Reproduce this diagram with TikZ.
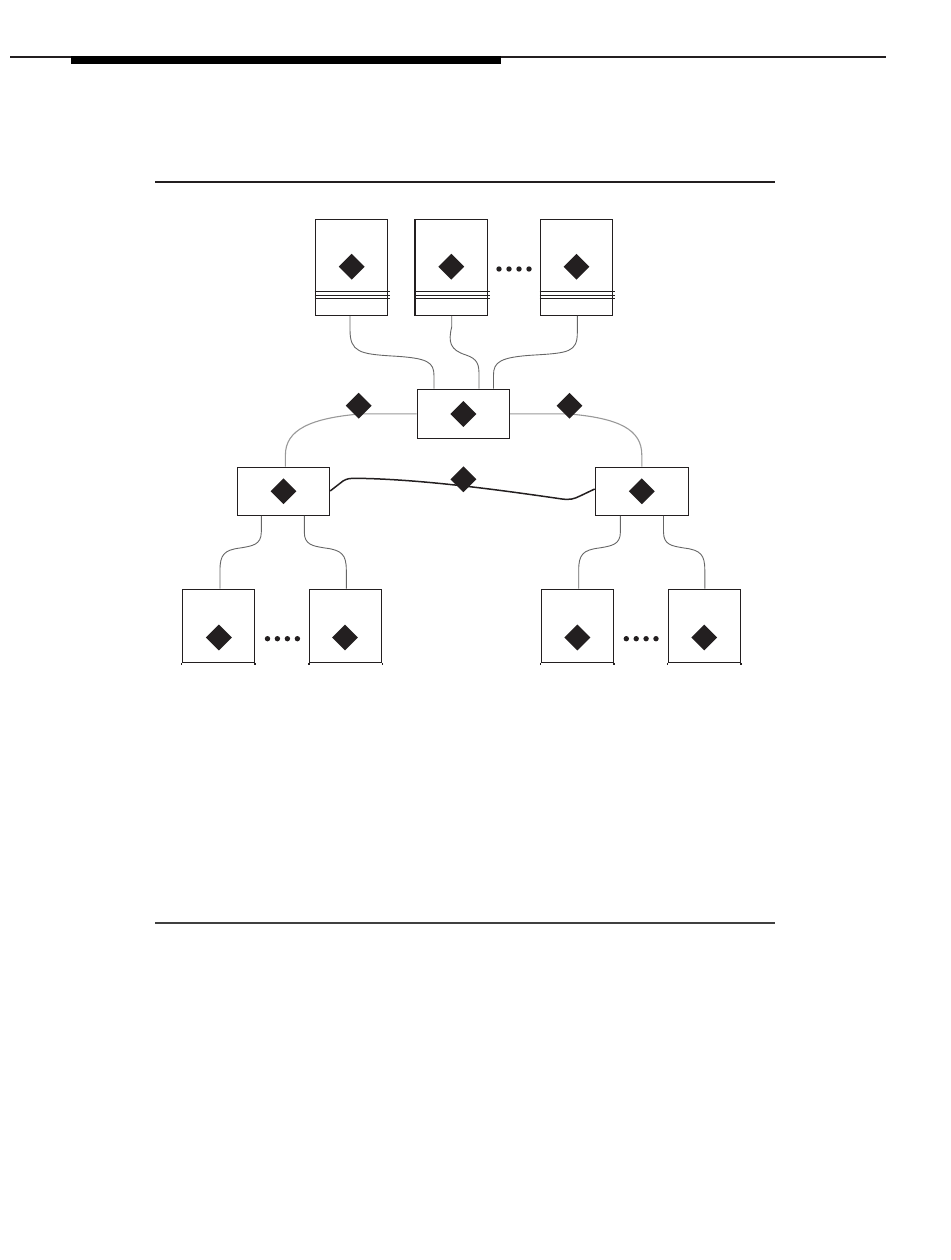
\documentclass[tikz,border=0pt]{standalone}
\usetikzlibrary{shapes.geometric}
\definecolor{ink}{HTML}{231F20}
\begin{document}
\begin{tikzpicture}[x=1pt,y=-1pt,
 box/.style={draw=ink, line width=1.3pt, rectangle, inner sep=0pt, fill=white},
 dia/.style={diamond, fill=ink, inner sep=0pt, minimum width=26pt, minimum height=26pt},
 wire/.style={draw=black!60, line width=0.9pt},
 hubwire/.style={draw=black!40, line width=1.1pt},
 link/.style={draw=ink, line width=1.5pt},
 dotn/.style={circle, fill=ink, inner sep=0pt, minimum size=5.4pt},
 rule/.style={draw=ink, line width=1.3pt}]
\useasboundingbox (0,0) rectangle (950,1260);
% page rules
\draw[rule] (10,57) -- (886,57);
\fill[black] (71,56.5) rectangle (501,64.5);
\draw[ink, line width=1.7pt] (155,182) -- (775,182);
\draw[draw=black!75, line width=1.4pt] (155,923) -- (775,923);
% top boxes
\node[box, minimum width=72.4pt, minimum height=96pt] (tA) at (351.5,267.3) {};
\node[box, minimum width=72.4pt, minimum height=96pt] (tB) at (451.3,267.3) {};
\node[box, minimum width=72.4pt, minimum height=96pt] (tC) at (576.5,267.3) {};
\foreach \n in {tA,tB,tC}{
  \foreach \s in {24,27.7,31}{
    \draw[ink, line width=1pt] ([yshift=-\s pt]\n.west) -- ([yshift=-\s pt, xshift=1.5pt]\n.east);
  }
}
\node[dia] (dA) at (351.7,266.7) {};
\node[dia] (dB) at (451.3,266.7) {};
\node[dia] (dC) at (576.5,266.7) {};
\foreach \x [count=\i] in {499,509,519,529}{\node[dotn] (tdot\i) at (\x,269) {};}
% hub and middle boxes
\node[box, minimum width=92.3pt, minimum height=49pt] (hub) at (463.4,413.8) {};
\node[box, minimum width=92pt, minimum height=48pt] (ml) at (283.5,491.3) {};
\node[box, minimum width=92.9pt, minimum height=48pt] (mr) at (641.8,491.3) {};
% bottom boxes
\node[box, minimum width=72pt, minimum height=73pt] (b1) at (218.4,625.8) {};
\node[box, minimum width=72pt, minimum height=73pt] (b2) at (345.5,625.8) {};
\node[box, minimum width=72pt, minimum height=73pt] (b3) at (577.2,625.8) {};
\node[box, minimum width=72pt, minimum height=73pt] (b4) at (704.3,625.8) {};
\foreach \n in {b1,b2,b3,b4}{
  \draw[ink, line width=1.3pt] (\n.south west) -- ++(0,2.5);
  \draw[ink, line width=1.3pt] (\n.south east) -- ++(0,2.5);
}
% top wires
\draw[wire] ([xshift=-1.5pt]tA.south) -- (350,330) .. controls (350,352) and (360,354) .. (392,356) .. controls (428,358) and (434,362) .. (434,376) -- ([xshift=-29.4pt]hub.north);
\draw[wire] ([xshift=0.4pt]tB.south) -- (451.7,327) .. controls (448,342) and (450,350) .. (466,355) .. controls (478,359) and (479,365) .. (479,375) -- ([xshift=15.6pt]hub.north);
\draw[wire] ([xshift=0.8pt]tC.south) -- (577.3,333) .. controls (577.3,352) and (568,353) .. (535,355) .. controls (500,357) and (493.5,362) .. (493.5,375) -- ([xshift=30.1pt]hub.north);
% hub to middle boxes
\draw[hubwire] (hub.west) -- (362,413.8) .. controls (310,418) and (285.4,430) .. (285.4,455) -- ([xshift=1.9pt]ml.north);
\draw[hubwire] (hub.east) -- (567,413.8) .. controls (620,418) and (641.8,430) .. (641.8,455) -- (mr.north);
% middle link
\draw[link] ([yshift=0.3pt]ml.east) -- (343,481) .. controls (347,478.5) and (350,478.3) .. (356,478.3) .. controls (420,479) and (500,490) .. (562,499) .. controls (570,500) and (574,499) .. (580,496) -- ([yshift=2.3pt]mr.west);
% bottom wires
\draw[wire] ([xshift=-22.2pt]ml.south) -- (261.3,532) .. controls (261.3,545) and (252,546) .. (240,548) .. controls (224,550) and (220,555) .. (220,570) -- ([xshift=1.6pt]b1.north);
\draw[wire] ([xshift=20.8pt]ml.south) -- (304.3,532) .. controls (304.3,545) and (313,546) .. (325,548) .. controls (342,550) and (346.3,555) .. (346.3,570) -- ([xshift=0.8pt]b2.north);
\draw[wire] ([xshift=-21.4pt]mr.south) -- (620.4,532) .. controls (620.4,545) and (611,546) .. (599,548) .. controls (582.7,550) and (578.7,555) .. (578.7,570) -- ([xshift=1.5pt]b3.north);
\draw[wire] ([xshift=21.7pt]mr.south) -- (663.5,532) .. controls (663.5,545) and (672,546) .. (684,548) .. controls (700.8,550) and (704.8,555) .. (704.8,570) -- ([xshift=0.5pt]b4.north);
% diamonds in boxes and on links
\node[dia] (dh) at (463.4,414) {};
\node[dia] (dml) at (283.5,491.3) {};
\node[dia] (dmr) at (641.8,491.3) {};
\node[dia] (lk1) at (358.7,405.7) {};
\node[dia] (lk2) at (569.5,405.7) {};
\node[dia] (lk3) at (463.4,479.3) {};
\node[dia] (db1) at (218.9,637.5) {};
\node[dia] (db2) at (345,637.5) {};
\node[dia] (db3) at (577.4,637.5) {};
\node[dia] (db4) at (704.3,637.5) {};
\foreach \x [count=\i] in {267.5,277.4,287.4,297.4}{\node[dotn] (ldot\i) at (\x,638.7) {};}
\foreach \x [count=\i] in {626.3,636.2,646.1,656}{\node[dotn] (rdot\i) at (\x,638.7) {};}
\end{tikzpicture}
\end{document}
